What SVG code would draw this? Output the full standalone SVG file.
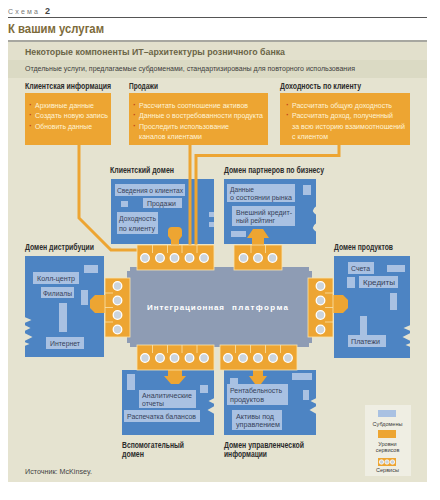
<svg xmlns="http://www.w3.org/2000/svg" width="440" height="500" viewBox="0 0 440 500">
<defs>
<style>
text{font-family:"Liberation Sans",Arial,sans-serif}
.lbl{font-weight:bold;font-size:8.5px;fill:#2b2b2b}
.ot{font-size:8px;fill:#fff4d6}
.bul{font-size:9px;font-weight:bold;fill:#c4471c}
.st{font-size:7.5px;fill:#36415a}
.dom{fill:#4d84c3}
.sub{fill:#a9c1e2}
.ob{fill:#eda532}
.bar{fill:#eda532;stroke:#f9e3ad;stroke-width:0.8}
.svc{fill:#cbd4dd;stroke:#ffffff;stroke-width:1.3}
.div{stroke:#f9e3ad;stroke-width:0.8}
.con{fill:none;stroke:#eda532;stroke-width:3}
.arr{fill:#eda532}
.notch{fill:#e5e3d0}
.lg{font-size:5.5px;fill:#3a3a3a;text-anchor:middle}
</style>
<circle id="svc" class="svc" r="4.3"/>
</defs>
<rect width="440" height="500" fill="#ffffff"/>
<!-- header -->
<text x="8" y="14" font-size="7" fill="#777" textLength="30" lengthAdjust="spacing">Схема</text>
<text x="45" y="14" font-size="9" font-weight="bold" fill="#444">2</text>
<line x1="8" y1="17.5" x2="427" y2="17.5" stroke="#555" stroke-width="1.2"/>
<text x="8" y="33" font-size="12.5" font-weight="bold" fill="#7d6b3a" textLength="96" lengthAdjust="spacingAndGlyphs">К вашим услугам</text>
<line x1="8" y1="41" x2="427" y2="41" stroke="#8a8a80" stroke-width="1.6"/>
<rect x="8" y="42" width="419" height="440" fill="#e5e3d0"/>
<rect x="8" y="42" width="419" height="18" fill="#e2e0cc"/>
<rect x="8" y="60" width="419" height="18" fill="#dbdac4"/>
<text x="25" y="55" font-size="9" font-weight="bold" fill="#6b6547" textLength="260" lengthAdjust="spacingAndGlyphs">Некоторые компоненты ИТ–архитектуры розничного банка</text>
<text x="25" y="71" font-size="8" fill="#3d3d3d" textLength="330" lengthAdjust="spacingAndGlyphs">Отдельные услуги, предлагаемые субдоменами, стандартизированы для повторного использования</text>

<!-- top service description boxes -->
<g id="box-client-info">
<text class="lbl" x="25" y="89" textLength="86" lengthAdjust="spacingAndGlyphs">Клиентская информация</text>
<rect class="ob" x="25" y="93" width="86" height="52"/>
<text class="bul" x="29" y="107.5">·</text><text class="ot" x="35" y="107.5" textLength="59" lengthAdjust="spacingAndGlyphs">Архивные данные</text>
<text class="bul" x="29" y="118">·</text><text class="ot" x="35" y="118" textLength="73" lengthAdjust="spacingAndGlyphs">Создать новую запись</text>
<text class="bul" x="29" y="128.5">·</text><text class="ot" x="35" y="128.5" textLength="57" lengthAdjust="spacingAndGlyphs">Обновить данные</text>
</g>
<g id="box-sales">
<text class="lbl" x="129" y="89" textLength="29" lengthAdjust="spacingAndGlyphs">Продажи</text>
<rect class="ob" x="129" y="93" width="139" height="52"/>
<text class="bul" x="133" y="107.5">·</text><text class="ot" x="139" y="107.5" textLength="109" lengthAdjust="spacingAndGlyphs">Рассчитать соотношение активов</text>
<text class="bul" x="133" y="118">·</text><text class="ot" x="139" y="118" textLength="124" lengthAdjust="spacingAndGlyphs">Данные о востребованности продукта</text>
<text class="bul" x="133" y="128.5">·</text><text class="ot" x="139" y="128.5" textLength="90" lengthAdjust="spacingAndGlyphs">Проследить использование</text>
<text class="ot" x="139" y="139" textLength="63" lengthAdjust="spacingAndGlyphs">каналов клиентами</text>
</g>
<g id="box-profitability">
<text class="lbl" x="280" y="89" textLength="81" lengthAdjust="spacingAndGlyphs">Доходность по клиенту</text>
<rect class="ob" x="280" y="93" width="130" height="52"/>
<text class="bul" x="286" y="107.5">·</text><text class="ot" x="292" y="107.5" textLength="100" lengthAdjust="spacingAndGlyphs">Рассчитать общую доходность</text>
<text class="bul" x="286" y="118">·</text><text class="ot" x="292" y="118" textLength="101" lengthAdjust="spacingAndGlyphs">Рассчитать доход, полученный</text>
<text class="ot" x="292" y="128.5" textLength="113" lengthAdjust="spacingAndGlyphs">за всю историю взаимоотношений</text>
<text class="ot" x="292" y="139" textLength="36" lengthAdjust="spacingAndGlyphs">с клиентом</text>
</g>

<!-- domains -->
<g id="dom-client">
<text class="lbl" x="110" y="173" textLength="64" lengthAdjust="spacingAndGlyphs">Клиентский домен</text>
<rect class="dom" x="111" y="179" width="103" height="65"/>
<rect class="sub" x="209" y="212" width="5" height="5"/>
<rect class="sub" x="209" y="222" width="5" height="5"/>
<rect class="sub" x="115" y="184" width="70" height="12"/>
<text class="st" x="117" y="193" textLength="66" lengthAdjust="spacingAndGlyphs">Сведения о клиентах</text>
<rect class="sub" x="121" y="201" width="7" height="6"/>
<rect class="sub" x="143" y="198" width="39" height="10"/>
<text class="st" x="147" y="206" textLength="29" lengthAdjust="spacingAndGlyphs">Продажи</text>
<rect class="sub" x="117" y="212" width="41" height="22"/>
<text class="st" x="119" y="221" textLength="37" lengthAdjust="spacingAndGlyphs">Доходность</text>
<text class="st" x="119" y="231" textLength="36" lengthAdjust="spacingAndGlyphs">по клиенту</text>
</g>
<g id="dom-partners">
<text class="lbl" x="224" y="173" textLength="100" lengthAdjust="spacingAndGlyphs">Домен партнеров по бизнесу</text>
<rect class="dom" x="224" y="179" width="92" height="65"/>
<path class="notch" d="M316.5,206 q-7,4.5 0,9 z M316.5,223 q-7,4.5 0,9 z"/>
<rect class="sub" x="227" y="184" width="68" height="18"/>
<text class="st" x="230" y="192" textLength="24" lengthAdjust="spacingAndGlyphs">Данные</text>
<text class="st" x="230" y="200" textLength="62" lengthAdjust="spacingAndGlyphs">о состоянии рынка</text>
<rect class="sub" x="303" y="185" width="8" height="10"/>
<rect class="sub" x="232" y="206" width="63" height="20"/>
<text class="st" x="236" y="214.5" textLength="56" lengthAdjust="spacingAndGlyphs">Внешний кредит-</text>
<text class="st" x="236" y="223" textLength="39" lengthAdjust="spacingAndGlyphs">ный рейтинг</text>
<rect class="sub" x="231" y="231" width="15" height="6"/>
</g>
<g id="dom-distribution">
<text class="lbl" x="25" y="250" textLength="69" lengthAdjust="spacingAndGlyphs">Домен дистрибуции</text>
<rect class="dom" x="25" y="256" width="79" height="101"/>
<path class="notch" d="M24.5,317 l7,3 l-7,3 z M24.5,325 l6,3 l-6,3 z M24.5,333 l8,4 l-8,4 z M24.5,342 l5,2 l-5,2 z"/>
<rect class="sub" x="84" y="265" width="14" height="8"/>
<rect class="sub" x="33" y="272" width="46" height="12"/>
<text class="st" x="37" y="281" textLength="38" lengthAdjust="spacingAndGlyphs">Колл-центр</text>
<rect class="sub" x="41" y="287" width="33" height="11"/>
<text class="st" x="43" y="295.5" textLength="29" lengthAdjust="spacingAndGlyphs">Филиалы</text>
<rect class="sub" x="81" y="290" width="7" height="15"/>
<rect class="sub" x="59" y="303" width="8" height="29"/>
<rect class="sub" x="46" y="337" width="38" height="12"/>
<text class="st" x="50" y="346" textLength="30" lengthAdjust="spacingAndGlyphs">Интернет</text>
</g>
<g id="dom-products">
<text class="lbl" x="334" y="250" textLength="59" lengthAdjust="spacingAndGlyphs">Домен продуктов</text>
<rect class="dom" x="334" y="256" width="76" height="102"/>
<path class="notch" d="M410.5,325 l-7,3 l7,3 z M410.5,333 l-8,4 l8,4 z M410.5,343 l-5,2 l5,2 z"/>
<rect class="sub" x="348" y="262" width="26" height="12"/>
<text class="st" x="351" y="271" textLength="19" lengthAdjust="spacingAndGlyphs">Счета</text>
<rect class="sub" x="387" y="265" width="18" height="7"/>
<rect class="sub" x="347" y="277" width="8" height="11"/>
<rect class="sub" x="359" y="276" width="39" height="12"/>
<text class="st" x="363" y="285" textLength="32" lengthAdjust="spacingAndGlyphs">Кредиты</text>
<rect class="sub" x="390" y="293" width="7" height="17"/>
<rect class="sub" x="360" y="316" width="7" height="19"/>
<rect class="sub" x="348" y="335" width="38" height="12"/>
<text class="st" x="351" y="344" textLength="29" lengthAdjust="spacingAndGlyphs">Платежи</text>
</g>
<g id="dom-support">
<rect class="dom" x="122" y="370" width="92" height="65"/>
<path class="notch" d="M214.5,398 l-6,3 l6,3 z M214.5,406 l-7,4 l7,4 z"/>
<rect class="sub" x="127" y="374" width="8" height="16"/>
<rect class="sub" x="200" y="385" width="8" height="8"/>
<rect class="sub" x="139" y="390" width="57" height="18"/>
<text class="st" x="142" y="398" textLength="50" lengthAdjust="spacingAndGlyphs">Аналитические</text>
<text class="st" x="142" y="406" textLength="22" lengthAdjust="spacingAndGlyphs">отчеты</text>
<rect class="sub" x="124" y="410" width="76" height="12"/>
<text class="st" x="127" y="419" textLength="69" lengthAdjust="spacingAndGlyphs">Распечатка балансов</text>
<text class="lbl" x="122" y="448" textLength="62" lengthAdjust="spacingAndGlyphs">Вспомогательный</text>
<text class="lbl" x="122" y="457" textLength="22" lengthAdjust="spacingAndGlyphs">домен</text>
</g>
<g id="dom-mgmt">
<rect class="dom" x="224" y="370" width="92" height="65"/>
<path class="notch" d="M316.5,398 l-6,3 l6,3 z M316.5,406 l-7,4 l7,4 z"/>
<rect class="sub" x="230" y="378" width="8" height="8"/>
<rect class="sub" x="292" y="373" width="20" height="7"/>
<rect class="sub" x="303" y="390" width="6" height="10"/>
<rect class="sub" x="227" y="384" width="61" height="21"/>
<text class="st" x="230" y="393" textLength="52" lengthAdjust="spacingAndGlyphs">Рентабельность</text>
<text class="st" x="230" y="402" textLength="34" lengthAdjust="spacingAndGlyphs">продуктов</text>
<rect class="sub" x="232" y="410" width="50" height="20"/>
<text class="st" x="236" y="418.5" textLength="38" lengthAdjust="spacingAndGlyphs">Активы под</text>
<text class="st" x="236" y="427" textLength="44" lengthAdjust="spacingAndGlyphs">управлением</text>
<text class="lbl" x="224" y="448" textLength="80" lengthAdjust="spacingAndGlyphs">Домен управленческой</text>
<text class="lbl" x="224" y="457" textLength="43" lengthAdjust="spacingAndGlyphs">информации</text>
</g>

<!-- connectors -->
<g id="connectors">
<path class="con" d="M79,145 V218 L111,250 H138"/>
<path class="con" d="M190,145 V246"/>
<path class="con" d="M339,145 V155.5 H196 V246"/>
<path class="arr" d="M171,246 V240 L168,236 V231 Q168,227 172,227 H178 Q182,227 182,231 V236 L179,240 V246 Z"/>
<path class="arr" d="M252,246 V238 H247 L253,229 H263 L269,238 H264 V246 Z"/>
<path class="arr" d="M168,369 V376 H164 L171,384 H179 L186,376 H182 V369 Z"/>
<path class="arr" d="M253,369 V376 H249 L255,384 H261 L267,376 H263 V369 Z"/>
<path class="arr" d="M106,295 H95 L90,300 V308 L95,313 H106 Z"/>
<path class="arr" d="M332,295 H343 L348,300 V308 L343,313 H332 Z"/>
</g>

<!-- integration platform -->
<g id="platform">
<path d="M127,271 h3 v-4 h179 v4 h3 v72 h-3 v4 h-179 v-4 h-3 z" fill="#8e9cb4"/>
<text x="147" y="310" font-size="8" font-weight="bold" fill="#ffffff" textLength="77" lengthAdjust="spacing">Интеграционная</text>
<text x="232" y="310" font-size="8" font-weight="bold" fill="#ffffff" textLength="56" lengthAdjust="spacing">платформа</text>
</g>

<!-- service bars -->
<g id="svc-client">
<rect class="bar" x="137" y="245" width="77" height="25"/>
<path class="div" d="M152.5,245 V253 M167.5,245 V253 M182,245 V253 M197,245 V253"/>
<use href="#svc" x="145" y="258"/><use href="#svc" x="160" y="258"/><use href="#svc" x="174.5" y="258"/><use href="#svc" x="189.5" y="258"/><use href="#svc" x="204" y="258"/>
</g>
<g id="svc-partners">
<rect class="bar" x="234" y="245" width="48" height="25"/>
<path class="div" d="M251,245 V253 M265.5,245 V253"/>
<use href="#svc" x="243.5" y="258"/><use href="#svc" x="258" y="258"/><use href="#svc" x="272.5" y="258"/>
</g>
<g id="svc-distribution">
<rect class="bar" x="105" y="278" width="25" height="59"/>
<path class="div" d="M105,293 H113 M105,307.5 H113 M105,322 H113"/>
<use href="#svc" x="117.5" y="286"/><use href="#svc" x="117.5" y="300.5"/><use href="#svc" x="117.5" y="315"/><use href="#svc" x="117.5" y="329.5"/>
</g>
<g id="svc-products">
<rect class="bar" x="308" y="278" width="25" height="59"/>
<path class="div" d="M325,293 H333 M325,307.5 H333 M325,322 H333"/>
<use href="#svc" x="320.5" y="286"/><use href="#svc" x="320.5" y="300.5"/><use href="#svc" x="320.5" y="315"/><use href="#svc" x="320.5" y="329.5"/>
</g>
<g id="svc-support">
<rect class="bar" x="137" y="345" width="77" height="25"/>
<path class="div" d="M152.5,345 V353 M167.5,345 V353 M182,345 V353 M197,345 V353"/>
<use href="#svc" x="145" y="358"/><use href="#svc" x="160" y="358"/><use href="#svc" x="174.5" y="358"/><use href="#svc" x="189.5" y="358"/><use href="#svc" x="204" y="358"/>
</g>
<g id="svc-mgmt">
<rect class="bar" x="220" y="345" width="77" height="25"/>
<path class="div" d="M235.5,345 V353 M250.5,345 V353 M265.5,345 V353 M280.5,345 V353"/>
<use href="#svc" x="228" y="358"/><use href="#svc" x="243" y="358"/><use href="#svc" x="258" y="358"/><use href="#svc" x="273" y="358"/><use href="#svc" x="288" y="358"/>
</g>

<!-- legend -->
<g id="legend">
<rect x="365" y="405" width="46" height="71" fill="#efeee3"/>
<rect class="sub" x="378" y="410" width="18" height="7"/>
<text class="lg" x="387.5" y="426">Субдомены</text>
<rect class="ob" x="378" y="430" width="18" height="8"/>
<text class="lg" x="387.5" y="446">Уровни</text>
<text class="lg" x="387.5" y="452">сервисов</text>
<rect class="ob" x="378" y="458" width="18" height="8"/>
<circle cx="381.5" cy="462" r="2.2" fill="#cbd4dd" stroke="#fff" stroke-width="0.8"/>
<circle cx="387" cy="462" r="2.2" fill="#cbd4dd" stroke="#fff" stroke-width="0.8"/>
<circle cx="392.5" cy="462" r="2.2" fill="#cbd4dd" stroke="#fff" stroke-width="0.8"/>
<text class="lg" x="387.5" y="472">Сервисы</text>
</g>
<text x="25" y="474" font-size="7.5" fill="#444" textLength="67" lengthAdjust="spacingAndGlyphs">Источник: McKinsey.</text>
</svg>
